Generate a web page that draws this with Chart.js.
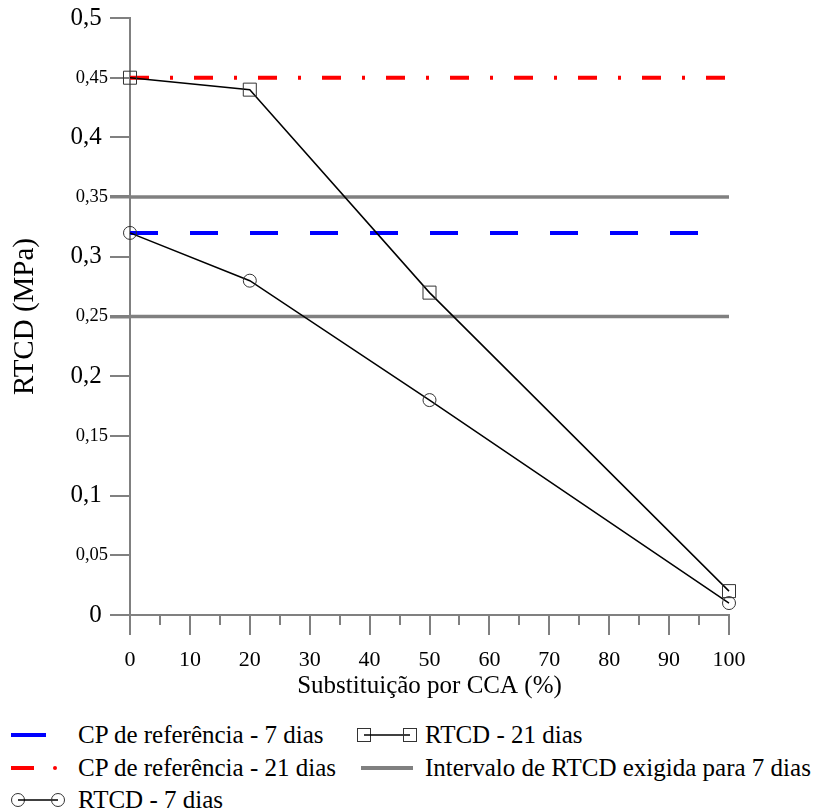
<!DOCTYPE html>
<html>
<head>
<meta charset="utf-8">
<script src="https://cdn.jsdelivr.net/npm/chart.js@4.4.1/dist/chart.umd.min.js"></script>
<style>
  body { margin: 0; background: #fff; width: 813px; height: 811px; overflow: hidden; position: relative; font-family: "Liberation Serif", "Times New Roman", serif; }
  #wrap { position: absolute; left: 0; top: 0; width: 813px; height: 711px; }
  .lg { position: absolute; font-size: 25px; line-height: 28px; white-space: nowrap; color: #000; }
  .gl { position: absolute; }
</style>
</head>
<body>
<div id="wrap"><canvas id="chart" width="813" height="711"></canvas></div>

<!-- legend -->
<svg class="gl" style="left:8px;top:725px" width="60" height="20"><line x1="3" y1="10" x2="38" y2="10" stroke="#0000ff" stroke-width="4"/></svg>
<div class="lg" style="left:78px;top:721px">CP de referência - 7 dias</div>
<svg class="gl" style="left:352px;top:725px" width="70" height="20"><rect x="5.5" y="3.5" width="13" height="13" fill="none" stroke="#333"/><line x1="12" y1="10" x2="58" y2="10" stroke="#000" stroke-width="1.5"/><rect x="51.5" y="3.5" width="13" height="13" fill="none" stroke="#333"/></svg>
<div class="lg" style="left:425px;top:721px">RTCD - 21 dias</div>

<svg class="gl" style="left:8px;top:758px" width="60" height="20"><line x1="3" y1="10" x2="26" y2="10" stroke="#ff0000" stroke-width="4"/><circle cx="47" cy="10" r="2" fill="#ff0000"/></svg>
<div class="lg" style="left:78px;top:754px">CP de referência - 21 dias</div>
<svg class="gl" style="left:352px;top:758px" width="70" height="20"><line x1="9" y1="10" x2="61" y2="10" stroke="#808080" stroke-width="4"/></svg>
<div class="lg" style="left:425px;top:754px">Intervalo de RTCD exigida para 7 dias</div>

<svg class="gl" style="left:2px;top:790px" width="70" height="20"><circle cx="16" cy="10" r="6.5" fill="none" stroke="#333"/><line x1="16" y1="10" x2="56" y2="10" stroke="#000" stroke-width="1.5"/><circle cx="56" cy="10" r="6.5" fill="none" stroke="#333"/></svg>
<div class="lg" style="left:78px;top:786px">RTCD - 7 dias</div>

<script>
// data
const substituicao = [0, 20, 50, 100]
const rtcd7 = [0.32, 0.28, 0.18, 0.01]
const rtcd21 = [0.45, 0.44, 0.27, 0.02]
const ref7 = 0.32
const ref21 = 0.45
const intervalo7 = [0.25, 0.35]
const xRange = [0, 100]

Chart.defaults.font.family = '"Liberation Serif", "Times New Roman", serif'
Chart.defaults.color = '#000'

const gray = '#808080'

// helpers
const hline = (y) => xRange.map(x => ({x, y}))
const series = (ys) => substituicao.map((x, i) => ({x, y: ys[i]}))
const cents = (v) => Math.round(v * 100)
const isMajor = (v) => cents(v) % 10 === 0

// x axis tick marks: long every 10, short every 5
const xTicks = {
  id: 'xTicks',
  afterDraw(chart) {
    const {ctx, scales: {x}} = chart
    ctx.save()
    ctx.strokeStyle = gray
    ctx.lineWidth = 2
    for (let v = xRange[0]; v <= xRange[1]; v += 5) {
      const px = Math.round(x.getPixelForValue(v))
      ctx.beginPath()
      ctx.moveTo(px, x.top)
      ctx.lineTo(px, x.top + (v % 10 === 0 ? 20 : 10))
      ctx.stroke()
    }
    ctx.restore()
  }
}

const datasets = [
  {
    label: 'RTCD - 21 dias',
    data: series(rtcd21),
    borderColor: '#000', borderWidth: 1.5,
    pointStyle: 'rect', pointRadius: 9.2, pointHoverRadius: 9.2,
    pointBorderColor: '#333', pointBorderWidth: 1,
    pointBackgroundColor: 'rgba(0,0,0,0)',
    clip: false, order: 1
  },
  {
    label: 'RTCD - 7 dias',
    data: series(rtcd7),
    borderColor: '#000', borderWidth: 1.5,
    pointStyle: 'circle', pointRadius: 6.5, pointHoverRadius: 6.5,
    pointBorderColor: '#333', pointBorderWidth: 1,
    pointBackgroundColor: 'rgba(0,0,0,0)',
    clip: false, order: 2
  },
  {
    label: 'CP de referência - 21 dias',
    data: hline(ref21),
    borderColor: '#ff0000', borderWidth: 4,
    borderDash: [19, 21, 3, 21], borderCapStyle: 'butt',
    pointRadius: 0, clip: false, order: 3
  },
  {
    label: 'CP de referência - 7 dias',
    data: hline(ref7),
    borderColor: '#0000ff', borderWidth: 4,
    borderDash: [28, 32], borderCapStyle: 'butt',
    pointRadius: 0, clip: false, order: 4
  },
  ...intervalo7.map((v, i) => ({
    label: 'Intervalo de RTCD exigida para 7 dias',
    data: hline(v),
    borderColor: gray, borderWidth: 3.5,
    pointRadius: 0, clip: false, order: 5 + i
  }))
]

new Chart(document.getElementById('chart'), {
  type: 'line',
  data: {datasets},
  plugins: [xTicks],
  options: {
    responsive: false,
    animation: false,
    events: [],
    layout: {padding: {top: 18, right: 84, left: 0, bottom: 0}},
    plugins: {legend: {display: false}, tooltip: {enabled: false}},
    scales: {
      x: {
        type: 'linear', min: 0, max: 100,
        afterFit: (s) => { s.height = 96 },
        border: {color: gray, width: 2},
        grid: {display: false, drawTicks: false},
        ticks: {stepSize: 10, autoSkip: false, maxRotation: 0, padding: 32, font: {size: 22}},
        title: {display: true, text: 'Substituição por CCA (%)', font: {size: 25}, padding: {top: 0, bottom: 10}}
      },
      y: {
        min: 0, max: 0.5,
        afterFit: (s) => { s.width = 130; s.paddingTop = 0; s.paddingBottom = 0 },
        border: {color: gray, width: 2},
        grid: {
          drawOnChartArea: false, drawTicks: true, tickLength: 20, color: gray,
          lineWidth: (c) => c.tick && intervalo7.some(v => cents(v) === cents(c.tick.value)) ? 3.5 : 2
        },
        ticks: {
          stepSize: 0.05, padding: 2,
          // major labels sit a little further from the tick
          callback: (v) => String(cents(v) / 100).replace('.', ',') + (isMajor(v) ? ' ' : ''),
          font: (c) => ({size: c.tick && isMajor(c.tick.value) ? 25 : 18.5})
        },
        title: {display: true, text: 'RTCD (MPa)', font: {size: 29}, padding: {top: 8, bottom: 0}}
      }
    }
  }
})
</script>
</body>
</html>
